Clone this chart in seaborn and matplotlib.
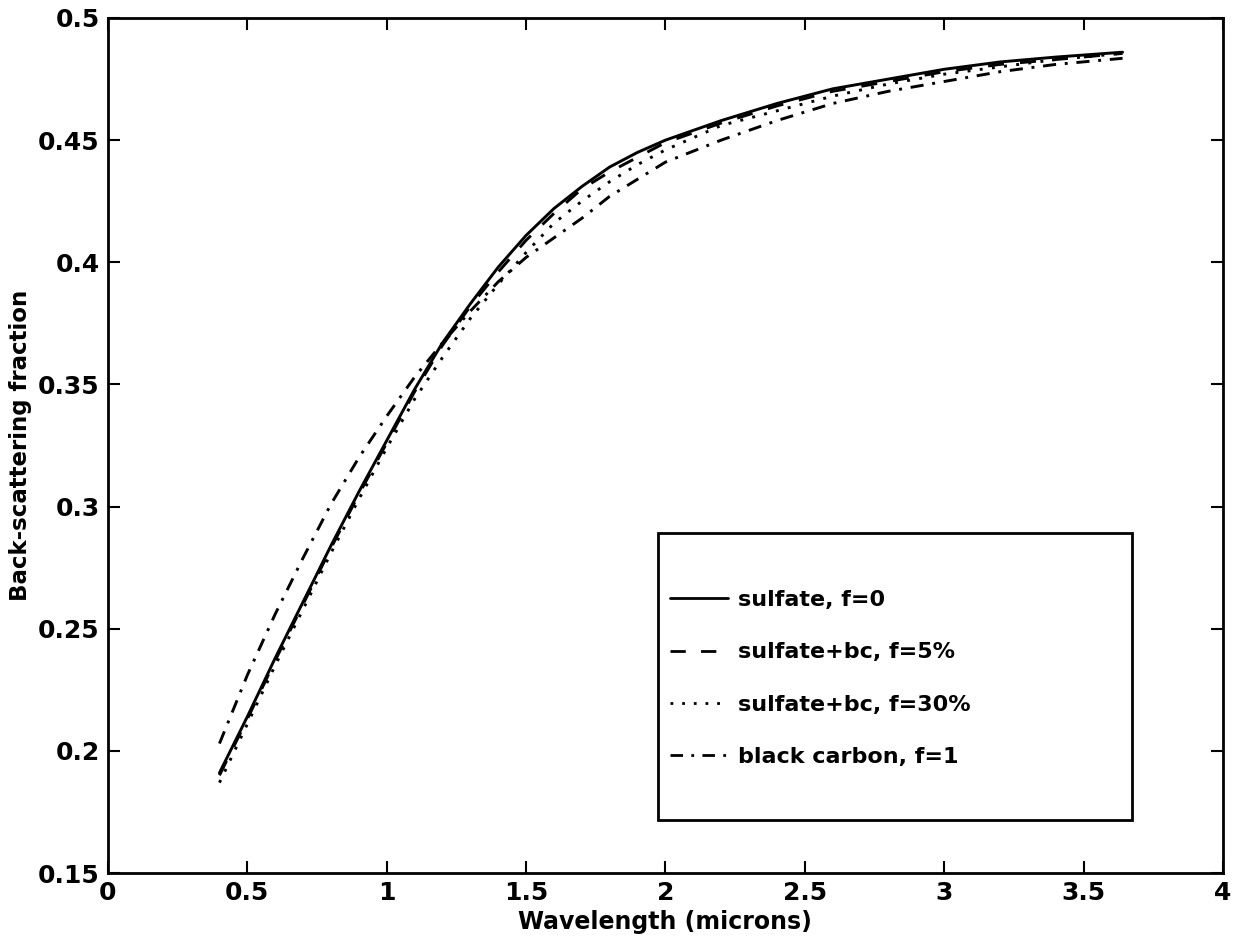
import matplotlib
matplotlib.use("Agg")
import matplotlib.pyplot as plt
import numpy as np
import pandas as pd
import seaborn as sns
from matplotlib.patches import Rectangle
from matplotlib.ticker import FuncFormatter

# Wavelength grid (microns)
wavelength = [0.4, 0.5, 0.6, 0.7, 0.8, 0.9, 1.0, 1.1, 1.2, 1.3, 1.4, 1.5, 1.6,
              1.7, 1.8, 1.9, 2.0, 2.2, 2.4, 2.6, 2.8, 3.0, 3.2, 3.4, 3.64]

# Back-scattering fraction for each aerosol mixture
sulfate = [0.191, 0.214, 0.238, 0.261, 0.284, 0.306, 0.327, 0.348, 0.367, 0.383,
           0.398, 0.411, 0.422, 0.431, 0.439, 0.445, 0.450, 0.458, 0.465, 0.471,
           0.475, 0.479, 0.482, 0.484, 0.486]
sulfate_bc5 = [0.190, 0.213, 0.237, 0.260, 0.283, 0.305, 0.326, 0.347, 0.366, 0.382,
               0.396, 0.409, 0.420, 0.430, 0.437, 0.443, 0.449, 0.457, 0.464, 0.470,
               0.474, 0.478, 0.481, 0.483, 0.4855]
sulfate_bc30 = [0.187, 0.211, 0.235, 0.258, 0.281, 0.303, 0.324, 0.344, 0.361, 0.377,
                0.391, 0.404, 0.416, 0.425, 0.433, 0.440, 0.446, 0.456, 0.462, 0.468,
                0.473, 0.477, 0.480, 0.483, 0.4855]
black_carbon = [0.203, 0.231, 0.256, 0.279, 0.301, 0.320, 0.337, 0.353, 0.367, 0.380,
                0.392, 0.402, 0.410, 0.418, 0.427, 0.434, 0.441, 0.450, 0.458, 0.465,
                0.470, 0.474, 0.478, 0.481, 0.4835]

series_labels = ["sulfate, f=0", "sulfate+bc, f=5%", "sulfate+bc, f=30%",
                 "black carbon, f=1"]
series_values = [sulfate, sulfate_bc5, sulfate_bc30, black_carbon]

x_ticks = [0, 0.5, 1, 1.5, 2, 2.5, 3, 3.5, 4]
y_ticks = [0.15, 0.2, 0.25, 0.3, 0.35, 0.4, 0.45, 0.5]

df = pd.concat(
    [pd.DataFrame({"wavelength": wavelength, "fraction": vals, "aerosol": lab})
     for lab, vals in zip(series_labels, series_values)],
    ignore_index=True,
)

sns.set_theme(style="ticks")
plt.rcParams["font.family"] = ["DejaVu Sans"]
plt.rcParams["font.weight"] = "bold"
plt.rcParams["axes.labelweight"] = "bold"
for key in ("text.color", "axes.labelcolor", "xtick.color", "ytick.color",
            "axes.edgecolor"):
    plt.rcParams[key] = "black"

fig = plt.figure(figsize=(12.48, 9.47), dpi=100)
fig.patch.set_facecolor("white")
ax = fig.add_axes([0.0865, 0.0781, 0.8934, 0.9029])

dash_styles = {
    "sulfate, f=0": "",
    "sulfate+bc, f=5%": (5.5, 5.5),
    "sulfate+bc, f=30%": (1, 3.2),
    "black carbon, f=1": (4.5, 3, 1, 3),
}

sns.lineplot(data=df, x="wavelength", y="fraction", style="aerosol",
             style_order=series_labels, dashes=dash_styles, color="black",
             linewidth=2.1, ax=ax, legend=True)

old = ax.get_legend()
handles = list(old.legend_handles)
texts = [t.get_text() for t in old.get_texts()]
old.remove()
for h in handles:
    h.set_color("black")
    h.set_linewidth(2.0)

ax.set_xlim(0, 4)
ax.set_ylim(0.15, 0.5)
ax.set_xticks(x_ticks)
ax.set_yticks(y_ticks)
fmt = FuncFormatter(lambda v, _: f"{round(v, 3):g}")
ax.xaxis.set_major_formatter(fmt)
ax.yaxis.set_major_formatter(fmt)

ax.tick_params(direction="in", length=8.5, width=1.5, top=True, right=True,
               labelsize=18, pad=6, colors="black")
for lab in ax.get_xticklabels() + ax.get_yticklabels():
    lab.set_fontweight("bold")
for sp in ax.spines.values():
    sp.set_visible(True)
    sp.set_linewidth(2.0)
    sp.set_color("black")

ax.set_xlabel("Wavelength (microns)", fontsize=17, fontweight="bold",
              labelpad=3)
ax.set_ylabel("Back-scattering fraction", fontsize=16.5, fontweight="bold",
              labelpad=4)

# Legend box with generous padding
ax.add_patch(Rectangle((0.4933, 0.062), 0.4251, 0.3357, transform=ax.transAxes,
                       fill=True, facecolor="white", edgecolor="black",
                       linewidth=2.0, zorder=5))
leg = ax.legend(handles=handles, labels=texts, loc="center left",
                bbox_to_anchor=(0.504, 0.2275), frameon=False, borderpad=0,
                borderaxespad=0, handlelength=2.6, handletextpad=0.45,
                labelspacing=1.45, prop={"size": 16, "weight": "bold"})
leg.set_zorder(6)

fig.savefig("out.png", dpi=100, facecolor="white")
